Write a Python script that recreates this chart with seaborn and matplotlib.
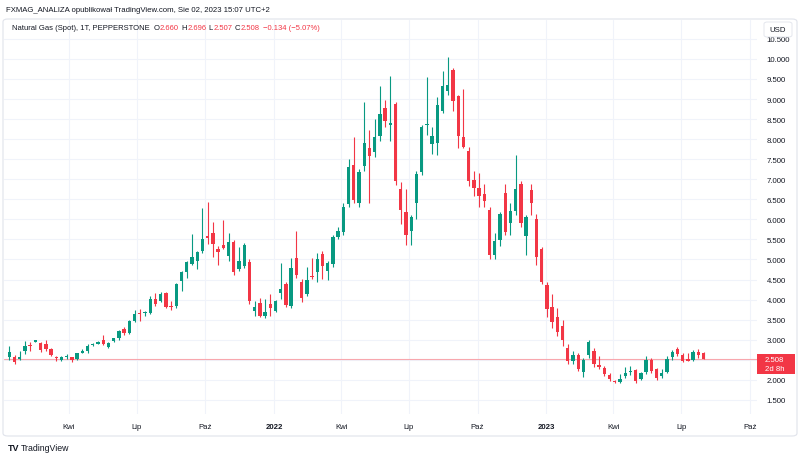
import numpy as np
import pandas as pd
import matplotlib
matplotlib.use("Agg")
import matplotlib.pyplot as plt
import matplotlib.dates as mdates
from matplotlib.patches import Rectangle, FancyBboxPatch
import seaborn as sns

# ---------------- data (weekly candles, Natural Gas spot) ----------------
first_week = "2021-01-11"
opens = [2.56, 2.58, 2.53, 2.71, 2.87, 2.95, 2.92, 2.89, 2.77, 2.58,
         2.50, 2.57, 2.56, 2.51, 2.68, 2.71, 2.86, 2.90, 2.98, 2.81,
         2.96, 3.04, 3.27, 3.16, 3.46, 3.66, 3.66, 3.67, 4.01, 3.96,
         4.16, 3.85, 3.85, 4.47, 4.68, 4.89, 4.95, 5.20, 5.59, 5.65,
         5.25, 5.36, 5.08, 5.44, 4.76, 4.83, 4.93, 3.72, 3.92, 3.58,
         3.89, 3.72, 4.16, 4.39, 3.83, 5.03, 4.45, 4.14, 4.60, 4.68,
         5.14, 4.72, 4.89, 5.57, 5.69, 6.38, 7.36, 6.42, 7.32, 7.77,
         7.69, 8.07, 8.78, 8.36, 8.88, 6.76, 6.18, 5.70, 6.41, 7.17,
         8.36, 7.88, 7.90, 8.71, 9.21, 9.73, 9.07, 8.05, 7.71, 6.99,
         6.77, 6.62, 6.24, 5.12, 5.49, 6.66, 5.91, 6.20, 6.88, 5.59,
         6.72, 6.01, 5.25, 4.37, 3.82, 3.56, 3.35, 2.79, 2.46, 2.62,
         2.20, 2.61, 2.73, 2.38, 2.30, 2.13, 1.96, 1.94, 2.09, 2.19,
         2.25, 2.02, 2.19, 2.50, 2.27, 2.09, 2.20, 2.56, 2.77, 2.63,
         2.52, 2.50, 2.70, 2.660]
highs = [2.85, 2.62, 2.71, 2.97, 2.95, 3.00, 2.95, 2.98, 2.80, 2.60,
         2.60, 2.64, 2.58, 2.68, 2.78, 2.88, 2.92, 2.96, 3.12, 2.95,
         3.05, 3.25, 3.32, 3.50, 3.73, 3.77, 3.72, 4.08, 4.16, 4.20,
         4.20, 3.97, 4.42, 4.72, 4.97, 5.64, 5.22, 6.28, 6.43, 5.93,
         5.34, 5.99, 5.66, 5.48, 5.32, 5.40, 5.00, 3.97, 4.03, 4.01,
         4.14, 4.00, 4.91, 4.45, 5.03, 5.72, 4.52, 4.80, 5.03, 5.15,
         5.22, 4.95, 5.60, 5.80, 6.40, 7.50, 8.05, 7.25, 8.92, 8.22,
         8.50, 9.32, 8.97, 9.58, 8.92, 6.94, 6.75, 6.10, 7.20, 8.35,
         9.54, 8.30, 9.04, 9.71, 10.04, 9.78, 9.10, 9.25, 7.80, 7.21,
         7.16, 6.88, 6.30, 5.65, 6.18, 6.88, 6.40, 7.61, 6.96, 6.10,
         6.88, 6.14, 5.30, 4.45, 4.14, 3.78, 3.48, 2.89, 2.73, 2.66,
         2.55, 2.98, 2.80, 2.60, 2.35, 2.18, 1.99, 2.15, 2.31, 2.35,
         2.28, 2.20, 2.60, 2.55, 2.30, 2.27, 2.59, 2.74, 2.81, 2.68,
         2.67, 2.74, 2.76, 2.696]
lows = [2.50, 2.40, 2.50, 2.65, 2.73, 2.93, 2.70, 2.72, 2.60, 2.48,
        2.47, 2.53, 2.45, 2.49, 2.66, 2.68, 2.84, 2.88, 2.86, 2.79,
        2.94, 3.00, 3.12, 3.13, 3.43, 3.47, 3.58, 3.64, 3.85, 3.93,
        3.78, 3.74, 3.80, 4.22, 4.55, 4.85, 4.75, 5.15, 5.39, 5.05,
        4.85, 5.25, 4.95, 4.62, 4.70, 4.78, 3.90, 3.58, 3.57, 3.55,
        3.60, 3.68, 4.02, 3.82, 3.80, 4.55, 3.95, 4.10, 4.52, 4.45,
        4.51, 4.50, 4.80, 5.50, 5.60, 6.30, 6.40, 6.30, 7.20, 6.41,
        7.55, 7.95, 8.30, 7.96, 6.85, 5.88, 5.35, 5.35, 6.02, 7.10,
        8.10, 7.63, 7.60, 8.65, 9.10, 8.70, 7.79, 7.78, 6.84, 6.59,
        6.30, 6.30, 5.01, 5.00, 5.34, 5.60, 5.60, 6.10, 5.80, 5.11,
        6.10, 4.85, 4.40, 3.56, 3.30, 3.10, 2.85, 2.40, 2.40, 2.22,
        2.06, 2.55, 2.33, 2.28, 2.10, 1.98, 1.92, 1.91, 2.05, 2.12,
        1.93, 1.99, 2.15, 2.18, 2.00, 2.05, 2.17, 2.50, 2.60, 2.45,
        2.46, 2.47, 2.55, 2.507]
closes = [2.70, 2.44, 2.57, 2.83, 2.85, 2.98, 2.74, 2.78, 2.63, 2.55,
          2.58, 2.59, 2.49, 2.66, 2.73, 2.85, 2.89, 2.93, 2.88, 2.92,
          3.03, 3.22, 3.17, 3.47, 3.64, 3.64, 3.67, 4.01, 3.89, 4.14,
          3.82, 3.81, 4.39, 4.68, 4.93, 5.05, 5.18, 5.51, 5.54, 5.39,
          5.18, 5.28, 5.43, 4.68, 4.97, 5.36, 3.96, 3.81, 3.60, 3.70,
          3.80, 3.96, 4.26, 3.87, 4.79, 4.61, 4.04, 4.49, 4.56, 5.01,
          4.83, 4.91, 5.57, 5.70, 6.32, 7.30, 6.48, 7.19, 7.90, 7.57,
          8.05, 8.63, 8.46, 8.39, 6.96, 6.24, 5.62, 6.07, 7.13, 8.30,
          8.38, 8.07, 8.84, 9.32, 9.36, 8.94, 8.07, 7.80, 6.96, 6.77,
          6.59, 6.45, 5.11, 5.45, 6.13, 5.69, 6.22, 6.76, 5.91, 6.05,
          6.41, 5.05, 4.45, 3.77, 3.45, 3.20, 2.98, 2.46, 2.63, 2.27,
          2.50, 2.95, 2.39, 2.31, 2.15, 2.02, 1.94, 2.02, 2.17, 2.22,
          1.98, 2.17, 2.50, 2.23, 2.04, 2.17, 2.52, 2.70, 2.65, 2.48,
          2.48, 2.70, 2.63, 2.508]

tick_dates = ["2021-04-01", "2021-07-01", "2021-10-01", "2022-01-01",
              "2022-04-01", "2022-07-01", "2022-10-01", "2023-01-01",
              "2023-04-01", "2023-07-01", "2023-10-01"]
tick_labels = ["Kwi", "Lip", "Paź", "2022", "Kwi", "Lip", "Paź", "2023",
               "Kwi", "Lip", "Paź"]
price_ticks = [1.5, 2.0, 2.5, 3.0, 3.5, 4.0, 4.5, 5.0, 5.5, 6.0, 6.5,
               7.0, 7.5, 8.0, 8.5, 9.0, 9.5, 10.0, 10.5]
last_price = 2.508
countdown = "2d 8h"

UP = "#089981"
DOWN = "#F23645"
TXT = "#131722"
GRID = "#f0f3fa"

# ---------------- style ----------------
sns.set_theme(style="white")
plt.rcParams["font.family"] = ["Liberation Sans", "DejaVu Sans"]

W, H = 800, 460
fig = plt.figure(figsize=(W / 100, H / 100), dpi=100)


def fx(px):
    return px / W


def fy(py):
    return 1 - py / H


ax = fig.add_axes([fx(4), fy(415), fx(757) - fx(4), fy(21) - fy(415)])

df = pd.DataFrame({
    "date": pd.date_range(first_week, periods=len(opens), freq="7D"),
    "open": opens, "high": highs, "low": lows, "close": closes,
})
df["up"] = df["close"] >= df["open"]
xs = mdates.date2num(df["date"])
cols = np.where(df["up"], UP, DOWN)

# wicks
ax.vlines(xs, df["low"], df["high"], colors=cols, lw=0.8, zorder=3)
# bodies
body_lo = np.minimum(df["open"], df["close"])
body_h = np.maximum(np.abs(df["close"] - df["open"]), 0.025)
ax.bar(xs, body_h, bottom=body_lo, width=4.5, color=cols, linewidth=0, zorder=4)

# last price line
ax.axhline(last_price, color="#f8a7ae", lw=0.8, zorder=2)

x0 = xs[0]
ax.set_xlim(x0 - 7.1, x0 + 1002.7)
ax.set_ylim(1.147, 10.97)

# price labels: the 2.500 label sits under the last-price box, so it is left blank
ax.set_yticks(price_ticks)
ax.set_yticklabels(["" if abs(v - 2.5) < 1e-9 else f"{v:.3f}" for v in price_ticks])
ax.yaxis.tick_right()
ax.set_xticks(mdates.date2num(pd.to_datetime(tick_dates)))
ax.set_xticklabels(tick_labels)
for lab in ax.get_xticklabels():
    if lab.get_text().isdigit():
        lab.set_fontweight("bold")
ax.tick_params(axis="y", length=0, pad=7, labelsize=5.6, labelcolor=TXT)
ax.tick_params(axis="x", length=0, pad=6.5, labelsize=5.6, labelcolor=TXT)
ax.grid(True, color=GRID, lw=0.8, zorder=0)
ax.set_axisbelow(True)
sns.despine(ax=ax, left=True, bottom=True, right=True, top=True)

# ---------------- decorations ----------------
border = FancyBboxPatch((fx(3), fy(437)), fx(797) - fx(3), (437 - 20) / H,
                        boxstyle="round,pad=0,rounding_size=0.006",
                        transform=fig.transFigure, fill=False,
                        edgecolor="#e0e3eb", lw=0.8, zorder=1)
fig.add_artist(border)

# USD box (partly covering the top 10.500 label as in TradingView)
usd = FancyBboxPatch((fx(764), fy(38)), fx(792) - fx(764), 15 / H,
                     boxstyle="round,pad=0,rounding_size=0.004",
                     transform=fig.transFigure, facecolor="white",
                     edgecolor="#e0e3eb", lw=0.6, zorder=8)
fig.add_artist(usd)
fig.text(fx(778), fy(30), "USD", ha="center", va="center", fontsize=5.6,
         color=TXT, zorder=9)

# last price box
fig.add_artist(Rectangle((fx(757), fy(375)), fx(795) - fx(757), 20 / H,
                         transform=fig.transFigure, facecolor=DOWN,
                         edgecolor="none", zorder=8))
fig.text(fx(765), fy(360.5), f"{last_price:.3f}", ha="left", va="center",
         fontsize=5.6, color="white", zorder=9)
fig.text(fx(765), fy(369.5), countdown, ha="left", va="center",
         fontsize=5.6, color="white", zorder=9)

# header line 1
fig.text(fx(6), fy(10), "FXMAG_ANALIZA opublikował TradingView.com, Sie 02, 2023 15:07 UTC+2",
         ha="left", va="center", fontsize=5.6, color=TXT)

# header line 2 (multi-colour)
pieces = [("Natural Gas (Spot), 1T, PEPPERSTONE", TXT, 4.0),
          ("O", TXT, 0.2), (f"{opens[-1]:.3f}", DOWN, 2.5),
          ("H", TXT, 0.2), (f"{highs[-1]:.3f}", DOWN, 2.5),
          ("L", TXT, 0.2), (f"{lows[-1]:.3f}", DOWN, 2.5),
          ("C", TXT, 0.2), (f"{closes[-1]:.3f}", DOWN, 3.5),
          ("\u22120.134 (\u22125.07%)", DOWN, 0)]
renderer = fig.canvas.get_renderer()
cur = 12
for txt, c, gap in pieces:
    t = fig.text(fx(cur), fy(28), txt, ha="left", va="center", fontsize=5.5,
                 color=c, zorder=9)
    bb = t.get_window_extent(renderer=renderer)
    cur += bb.width + gap

# footer logo
fig.text(fx(8), fy(449), "TV", ha="left", va="center", fontsize=6.5,
         fontweight="bold", color=TXT)
fig.text(fx(21), fy(449), "TradingView", ha="left", va="center", fontsize=6.3,
         color=TXT)

fig.savefig("out.png", dpi=100)
